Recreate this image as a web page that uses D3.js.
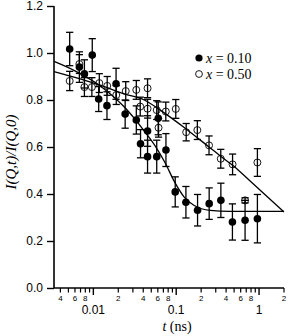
<!DOCTYPE html>
<html>
<head>
<meta charset="utf-8">
<script src="https://cdn.jsdelivr.net/npm/d3@7"></script>
<style>
  html, body { margin: 0; padding: 0; background: #fff; }
  svg { display: block; }
</style>
</head>
<body>
<div id="chart"></div>
<script>
// ---- Data ----
const seriesLabels = ["0.10", "0.50"];

// x = 0.10 (filled circles)
const t10 = [0.00518, 0.00678, 0.0078, 0.0097, 0.0116, 0.0146, 0.0188, 0.0242, 0.033, 0.0371,
             0.0451, 0.0451, 0.0582, 0.0607, 0.0752, 0.0973, 0.131, 0.181, 0.25, 0.346, 0.477, 0.678, 0.955];
const v10 = [1.017, 0.94, 0.911, 0.991, 0.804, 0.776, 0.869, 0.74, 0.715, 0.614,
             0.668, 0.559, 0.559, 0.722, 0.587, 0.409, 0.365, 0.331, 0.359, 0.373, 0.281, 0.288, 0.295];
const e10 = [0.071, 0.065, 0.06, 0.07, 0.053, 0.059, 0.066, 0.06, 0.06, 0.06,
             0.065, 0.07, 0.07, 0.07, 0.07, 0.064, 0.067, 0.067, 0.067, 0.073, 0.077, 0.085, 0.103];

// x = 0.50 (open circles)
const t50 = [0.00518, 0.00678, 0.0078, 0.0096, 0.0118, 0.0147, 0.0189, 0.0246, 0.033, 0.0368,
             0.0451, 0.0451, 0.0582, 0.0612, 0.0749, 0.0988, 0.132, 0.18, 0.249, 0.345, 0.479, 0.678, 0.955];
const v50 = [0.881, 0.953, 0.855, 0.855, 0.872, 0.86, 0.821, 0.838, 0.843, 0.772,
             0.85, 0.763, 0.757, 0.682, 0.751, 0.762, 0.663, 0.672, 0.607, 0.55, 0.526, 0.373, 0.534];
const e50 = [0.041, 0.04, 0.04, 0.04, 0.04, 0.04, 0.04, 0.04, 0.04, 0.04,
             0.04, 0.04, 0.04, 0.04, 0.04, 0.04, 0.037, 0.04, 0.04, 0.04, 0.044, 0.011, 0.059];

// fitted curves
const fit10T = [0.00335, 0.00607, 0.0121, 0.0237, 0.0412, 0.0559, 0.0737, 0.0944, 0.125, 0.165, 0.257, 0.445, 2.0];
const fit10V = [0.964, 0.923, 0.86, 0.77, 0.668, 0.604, 0.532, 0.455, 0.387, 0.351, 0.33, 0.326, 0.326];
const fit50T = [0.00335, 0.0121, 0.0236, 0.0412, 0.0642, 0.128, 0.249, 0.346, 0.488, 0.78, 2.0];
const fit50V = [0.921, 0.863, 0.826, 0.80, 0.757, 0.68, 0.60, 0.56, 0.52, 0.455, 0.323];

// axis ticks
const yTicks = [0.0, 0.2, 0.4, 0.6, 0.8, 1.0, 1.2];
const xMajor = [0.01, 0.1, 1];
const xMajorLabels = ["0.01", "0.1", "1"];
const xMinor = [0.004, 0.005, 0.006, 0.007, 0.008, 0.009,
                0.02, 0.03, 0.04, 0.05, 0.06, 0.07, 0.08, 0.09,
                0.2, 0.3, 0.4, 0.5, 0.6, 0.7, 0.8, 0.9, 2];
const xMinorLabeled = [0.004, 0.006, 0.008, 0.02, 0.04, 0.06, 0.08, 0.2, 0.4, 0.6, 0.8, 2];
const xMinorLabels = ["4", "6", "8", "2", "4", "6", "8", "2", "4", "6", "8", "2"];

// ---- Layout ----
const W = 288, H = 336;
const svg = d3.select("#chart").append("svg").attr("width", W).attr("height", H);

const x = d3.scaleLog().domain([0.00335, 2]).range([54, 284]);
const y = d3.scaleLinear().domain([0, 1.2]).range([288, 6]);

const sans = "'Liberation Sans', Arial, Helvetica, sans-serif";
const serif = "'Liberation Serif', 'Times New Roman', serif";

// fitted lines
const line = d3.line().x(d => x(d[0])).y(d => y(d[1])).curve(d3.curveMonotoneX);
svg.append("path").datum(d3.zip(fit10T, fit10V)).attr("d", line)
  .attr("fill", "none").attr("stroke", "#000").attr("stroke-width", 1.3);
svg.append("path").datum(d3.zip(fit50T, fit50V)).attr("d", line)
  .attr("fill", "none").attr("stroke", "#000").attr("stroke-width", 1.3);

// error bars
function errorBars(ts, vs, es) {
  const g = svg.append("g").attr("stroke", "#000").attr("stroke-width", 1.3).attr("fill", "none");
  const data = d3.zip(ts, vs, es);
  g.selectAll("line.v").data(data).join("line")
    .attr("x1", d => x(d[0])).attr("x2", d => x(d[0]))
    .attr("y1", d => y(d[1] - d[2])).attr("y2", d => y(d[1] + d[2]));
  g.selectAll("line.t").data(data).join("line")
    .attr("x1", d => x(d[0]) - 3.6).attr("x2", d => x(d[0]) + 3.6)
    .attr("y1", d => y(d[1] + d[2])).attr("y2", d => y(d[1] + d[2]));
  g.selectAll("line.b").data(data).join("line")
    .attr("x1", d => x(d[0]) - 3.6).attr("x2", d => x(d[0]) + 3.6)
    .attr("y1", d => y(d[1] - d[2])).attr("y2", d => y(d[1] - d[2]));
}
errorBars(t50, v50, e50);
errorBars(t10, v10, e10);

// markers
svg.append("g").selectAll("circle").data(d3.zip(t50, v50)).join("circle")
  .attr("cx", d => x(d[0])).attr("cy", d => y(d[1])).attr("r", 3.5)
  .attr("fill", "none").attr("stroke", "#000").attr("stroke-width", 0.9);
svg.append("g").selectAll("circle").data(d3.zip(t10, v10)).join("circle")
  .attr("cx", d => x(d[0])).attr("cy", d => y(d[1])).attr("r", 3.8)
  .attr("fill", "#000");

// y axis
const yAxis = d3.axisLeft(y).tickValues(yTicks).tickFormat(d3.format(".1f")).tickSize(7).tickPadding(4);
const gy = svg.append("g").attr("transform", "translate(54,0)").call(yAxis);
gy.select(".domain").attr("stroke-width", 1.6).attr("d", `M0,${y(0)}V${y(1.2)}`);
gy.selectAll(".tick line").attr("stroke-width", 1.4);
gy.selectAll(".tick text").attr("font-family", sans).attr("font-size", 12).attr("fill", "#000");

// x axis
const gx = svg.append("g").attr("transform", "translate(0,288)");
gx.append("line").attr("x1", 54).attr("x2", 284).attr("stroke", "#000").attr("stroke-width", 1.6);
gx.selectAll("line.mn").data(xMinor).join("line")
  .attr("x1", d => x(d)).attr("x2", d => x(d)).attr("y1", 0).attr("y2", 4.5)
  .attr("stroke", "#000").attr("stroke-width", 1.2);
gx.selectAll("line.mj").data(xMajor).join("line")
  .attr("x1", d => x(d)).attr("x2", d => x(d)).attr("y1", 0).attr("y2", 7)
  .attr("stroke", "#000").attr("stroke-width", 1.4);
gx.selectAll("text.mn").data(d3.zip(xMinorLabeled, xMinorLabels)).join("text")
  .attr("x", d => x(d[0])).attr("y", 13).attr("text-anchor", "middle")
  .attr("font-family", sans).attr("font-size", 8).text(d => d[1]);
gx.selectAll("text.mj").data(d3.zip(xMajor, xMajorLabels)).join("text")
  .attr("x", d => x(d[0])).attr("y", 26).attr("text-anchor", "middle")
  .attr("font-family", sans).attr("font-size", 12).text(d => d[1]);

// axis titles
const xt = svg.append("text").attr("x", 177).attr("y", 331).attr("text-anchor", "middle")
  .attr("font-family", serif).attr("font-size", 14);
xt.append("tspan").attr("font-style", "italic").text("t");
xt.append("tspan").text(" (ns)");

svg.append("text").attr("transform", "translate(16,152) rotate(-90)")
  .attr("text-anchor", "middle").attr("font-family", serif).attr("font-style", "italic")
  .attr("font-size", 15).text("I(Q,t)/I(Q,0)");

// legend
const legend = svg.append("g");
const legY = [58, 74];
legend.append("circle").attr("cx", 199).attr("cy", legY[0]).attr("r", 3.6).attr("fill", "#000");
legend.append("circle").attr("cx", 199).attr("cy", legY[1]).attr("r", 3.4)
  .attr("fill", "none").attr("stroke", "#000").attr("stroke-width", 0.9);
seriesLabels.forEach((lab, i) => {
  const tx = legend.append("text").attr("x", 206).attr("y", legY[i] + 4.5)
    .attr("font-family", serif).attr("font-size", 14);
  tx.append("tspan").attr("font-style", "italic").text("x");
  tx.append("tspan").text(" = " + lab);
});
</script>
</body>
</html>
